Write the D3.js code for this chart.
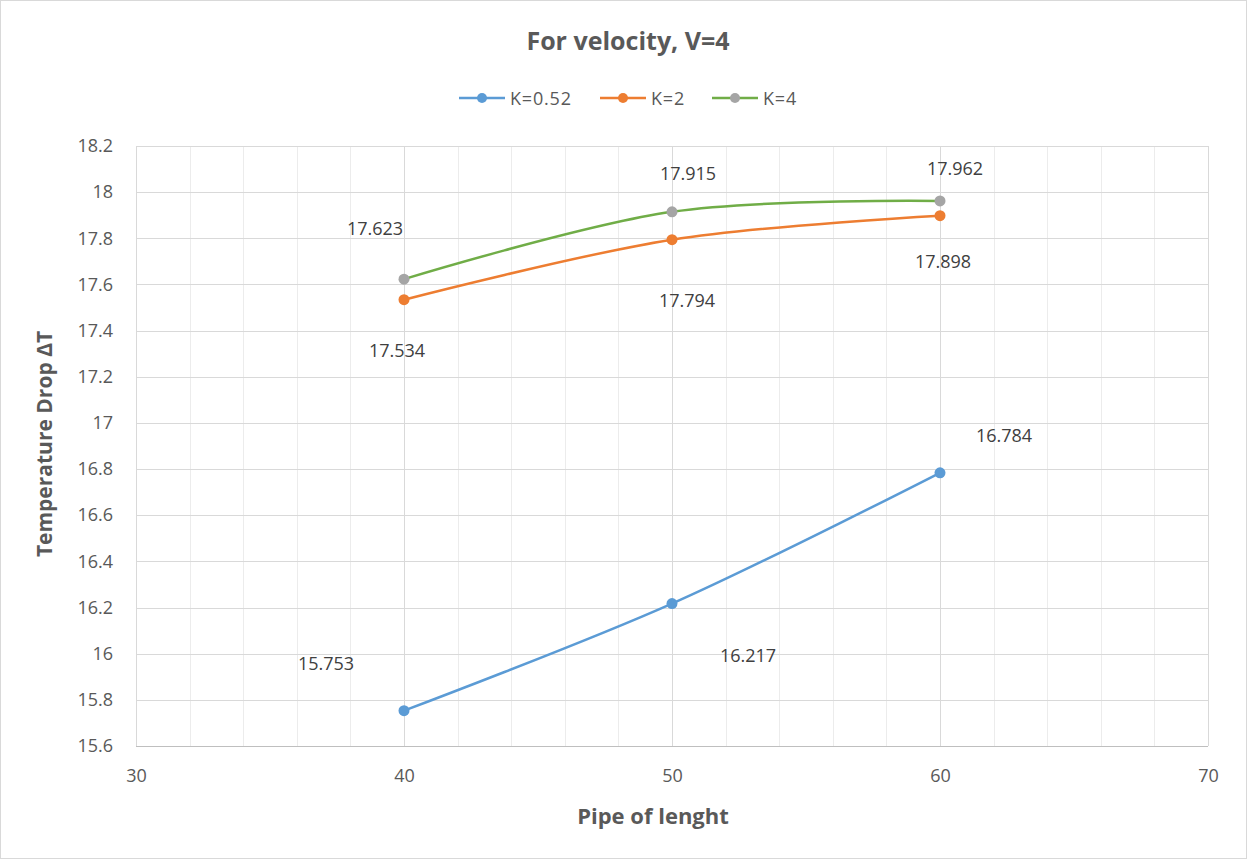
<!DOCTYPE html>
<html><head><meta charset="utf-8">
<script src="https://cdn.jsdelivr.net/npm/d3@7"></script>
<style>
html,body{margin:0;padding:0;background:#fff;}
svg{display:block;font-family:"Open Sans",sans-serif;}
</style></head>
<body><svg id="c" width="1247" height="859"></svg>
<script>
// ---- data ----
const pipeLength = [40, 50, 60];
const seriesNames = ["K=0.52", "K=2", "K=4"];
const k052 = [15.753, 16.217, 16.784];
const k2 = [17.534, 17.794, 17.898];
const k4 = [17.623, 17.915, 17.962];
const yTicks = [15.6, 15.8, 16, 16.2, 16.4, 16.6, 16.8, 17, 17.2, 17.4, 17.6, 17.8, 18, 18.2];
const xTicks = [30, 40, 50, 60, 70];
const xMinor = d3.range(30, 70.001, 2);

// ---- styles / layout ----
const lineColors = ["#5B9BD5", "#ED7D31", "#70AD47"];
const markerColors = ["#5B9BD5", "#ED7D31", "#A5A5A5"];
// label offsets in px relative to point, per series
const labelOffsets = [
  [[-78, -48], [76, 51], [64, -38]],
  [[-7, 50], [15, 60], [3, 45]],
  [[-29, -51], [16, -39], [15, -33]]
];
const txt = "#595959";
const svg = d3.select("#c");
const L = 136, R = 1208, T = 146, B = 746;

svg.append("rect").attr("x", 0.5).attr("y", 0.5).attr("width", 1246).attr("height", 858)
  .attr("fill", "#fff").attr("stroke", "#d9d9d9");

const x = d3.scaleLinear().domain([30, 70]).range([L, R]);
const y = d3.scaleLinear().domain([15.6, 18.2]).range([B, T]);

// minor vertical grid
svg.append("g").selectAll("line").data(xMinor.filter(v => v % 10 !== 0)).join("line")
  .attr("x1", d => Math.round(x(d)) + 0.5).attr("x2", d => Math.round(x(d)) + 0.5)
  .attr("y1", T).attr("y2", B).attr("stroke", "#ececec").attr("stroke-width", 1);
// major horizontal grid
svg.append("g").selectAll("line").data(yTicks).join("line")
  .attr("x1", L).attr("x2", R)
  .attr("y1", d => Math.round(y(d)) + 0.5).attr("y2", d => Math.round(y(d)) + 0.5)
  .attr("stroke", "#d9d9d9").attr("stroke-width", 1);
// major vertical grid
svg.append("g").selectAll("line").data(xTicks).join("line")
  .attr("x1", d => Math.round(x(d)) + 0.5).attr("x2", d => Math.round(x(d)) + 0.5)
  .attr("y1", T).attr("y2", B).attr("stroke", "#d9d9d9").attr("stroke-width", 1);

// axes (tick labels)
const yAxis = d3.axisLeft(y).tickValues(yTicks).tickSize(0).tickPadding(23).tickFormat(d3.format("~g"));
const gy = svg.append("g").attr("transform", `translate(${L},0)`).call(yAxis);
gy.select(".domain").remove();
gy.selectAll("text").attr("fill", txt).style("font-size", "18px").style("font-family", "Open Sans");

const xAxis = d3.axisBottom(x).tickValues(xTicks).tickSize(0).tickPadding(23).tickFormat(d3.format("d"));
const gx = svg.append("g").attr("transform", `translate(0,${B})`).call(xAxis);
gx.select(".domain").attr("stroke", "#bfbfbf").attr("d", `M${L},0.5H${R}`);
gx.selectAll("text").attr("fill", txt).style("font-size", "18px").style("font-family", "Open Sans");

// series
const all = [k052, k2, k4];
const line = d3.line().x((d, i) => x(pipeLength[i])).y(d => y(d)).curve(d3.curveCardinal.tension(0));
all.forEach((vals, s) => {
  svg.append("path").datum(vals).attr("d", line).attr("fill", "none")
    .attr("stroke", lineColors[s]).attr("stroke-width", 2.5).attr("stroke-linecap", "round");
});
all.forEach((vals, s) => {
  svg.append("g").selectAll("circle").data(vals).join("circle")
    .attr("cx", (d, i) => x(pipeLength[i])).attr("cy", d => y(d)).attr("r", 5.5)
    .attr("fill", markerColors[s]);
  svg.append("g").selectAll("text").data(vals).join("text")
    .attr("x", (d, i) => x(pipeLength[i]) + labelOffsets[s][i][0])
    .attr("y", (d, i) => y(d) + labelOffsets[s][i][1])
    .attr("text-anchor", "middle").attr("dominant-baseline", "central")
    .attr("fill", "#404040").style("font-size", "18px")
    .text(d => d3.format(".3f")(d));
});

// title
svg.append("text").attr("x", 628).attr("y", 40).attr("text-anchor", "middle")
  .attr("dominant-baseline", "central").attr("fill", txt)
  .style("font-size", "25px").style("font-weight", "bold").text("For velocity, V=4");

// legend
const legendX = [459, 600, 712];
seriesNames.forEach((n, s) => {
  const g = svg.append("g").attr("transform", `translate(${legendX[s]},98)`);
  g.append("line").attr("x1", 0).attr("x2", 46).attr("y1", 0).attr("y2", 0)
    .attr("stroke", lineColors[s]).attr("stroke-width", 2.5);
  g.append("circle").attr("cx", 23).attr("cy", 0).attr("r", 5).attr("fill", markerColors[s]);
  g.append("text").attr("x", 51).attr("y", 0).attr("dominant-baseline", "central")
    .attr("fill", txt).style("font-size", "18px").style("letter-spacing", "0.8px").text(n);
});

// axis titles
svg.append("text").attr("x", 653).attr("y", 815).attr("text-anchor", "middle")
  .attr("dominant-baseline", "central").attr("fill", txt)
  .style("font-size", "22px").style("font-weight", "bold").text("Pipe of lenght");
svg.append("text").attr("transform", "translate(44,444) rotate(-90)").attr("text-anchor", "middle")
  .attr("dominant-baseline", "central").attr("fill", txt)
  .style("font-size", "21px").style("font-weight", "bold").text("Temperature Drop ΔT");
</script></body></html>
